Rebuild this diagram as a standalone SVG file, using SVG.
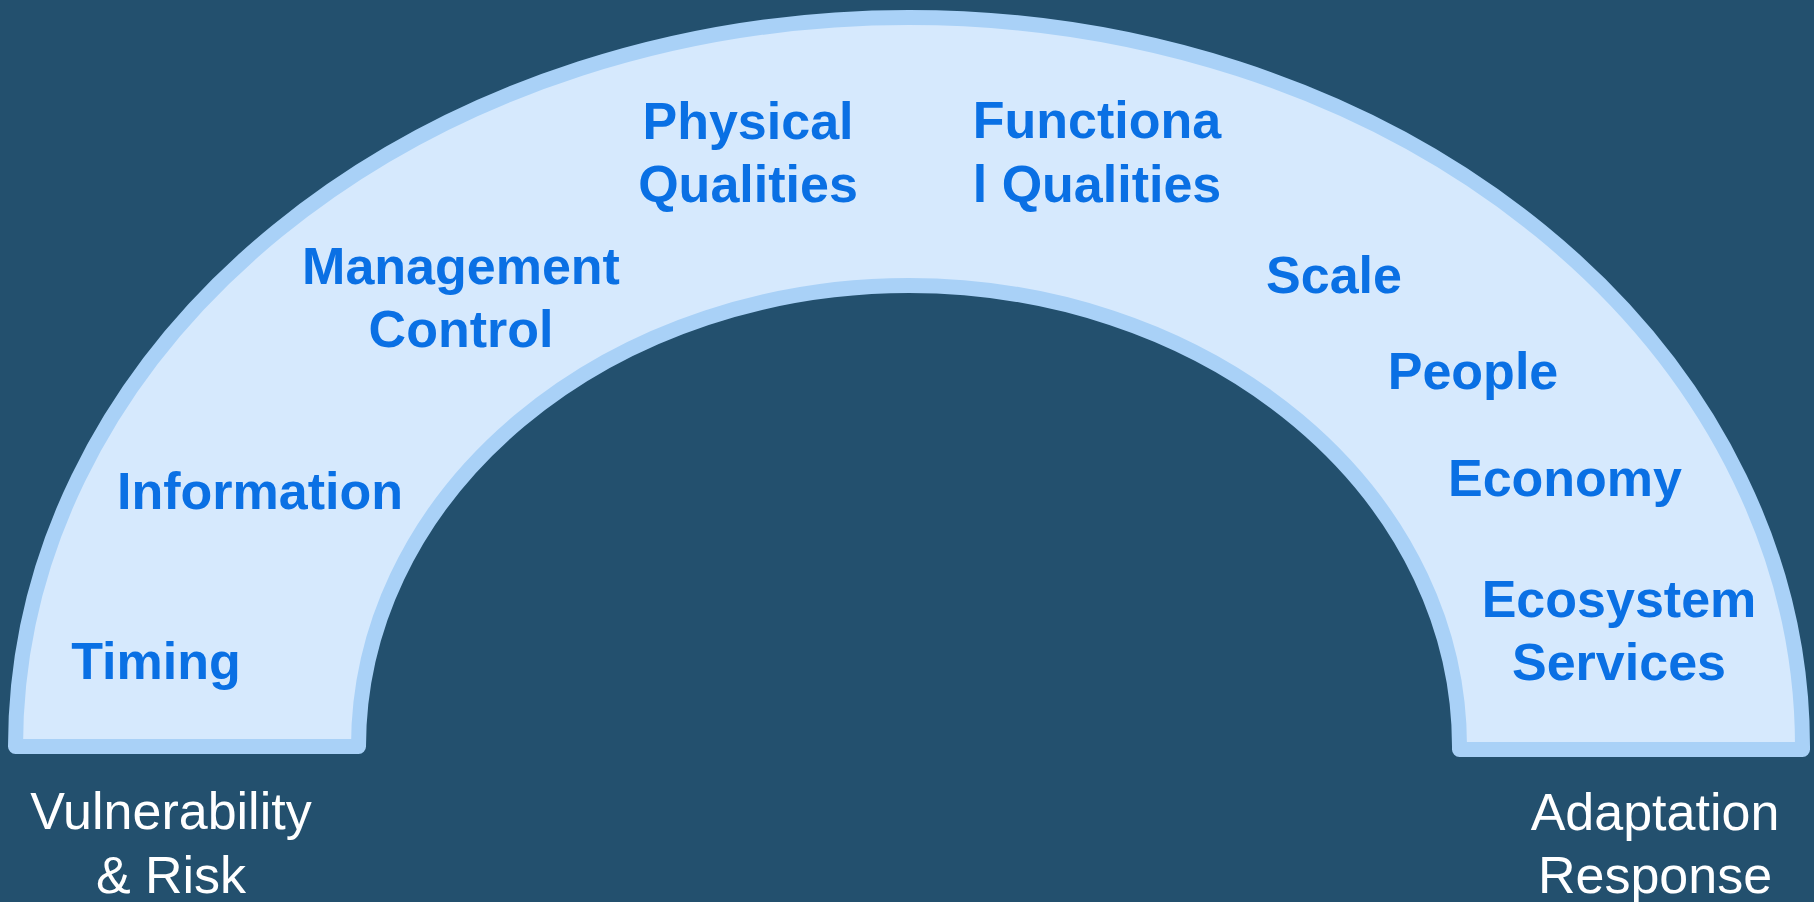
<svg xmlns="http://www.w3.org/2000/svg" width="1814" height="902" viewBox="0 0 1814 902">
<style>
.lbl{font-family:"Liberation Sans",Arial,sans-serif;font-weight:bold;font-size:52px;fill:#0a70e4;text-anchor:middle}
.end{font-family:"Liberation Sans",Arial,sans-serif;font-size:52px;fill:#ffffff;text-anchor:middle}
</style>
<rect x="0" y="0" width="1814" height="902" fill="#23506e"/>
<g id="arch">
<path d="M 15.5 746.5 A 893.5 729 0 0 1 1802.5 746.5 L 1802.5 749.5 L 1459.5 749.5 L 1459.5 746.5 A 550.5 461 0 0 0 358.5 746.5 Z" fill="#d6e9fd" stroke="#a9d1f7" stroke-width="15" stroke-linejoin="round"/>
</g>
<g id="physical"><text class="lbl" x="748" y="139">Physical</text><text class="lbl" x="748" y="202">Qualities</text></g>
<g id="functional"><text class="lbl" x="1097" y="138">Functiona</text><text class="lbl" x="1097" y="202">l Qualities</text></g>
<g id="management"><text class="lbl" x="461" y="284">Management</text><text class="lbl" x="461" y="347">Control</text></g>
<g id="scale"><text class="lbl" x="1334" y="293">Scale</text></g>
<g id="people"><text class="lbl" x="1473" y="389">People</text></g>
<g id="information"><text class="lbl" x="260" y="509">Information</text></g>
<g id="economy"><text class="lbl" x="1565" y="496">Economy</text></g>
<g id="ecosystem"><text class="lbl" x="1619" y="617">Ecosystem</text><text class="lbl" x="1619" y="680">Services</text></g>
<g id="timing"><text class="lbl" x="156" y="679">Timing</text></g>
<g id="vulnerability"><text class="end" x="171" y="829">Vulnerability</text><text class="end" x="171" y="893">&amp; Risk</text></g>
<g id="adaptation"><text class="end" x="1655" y="830">Adaptation</text><text class="end" x="1655" y="893">Response</text></g>
<g id="connectors"/>
</svg>
